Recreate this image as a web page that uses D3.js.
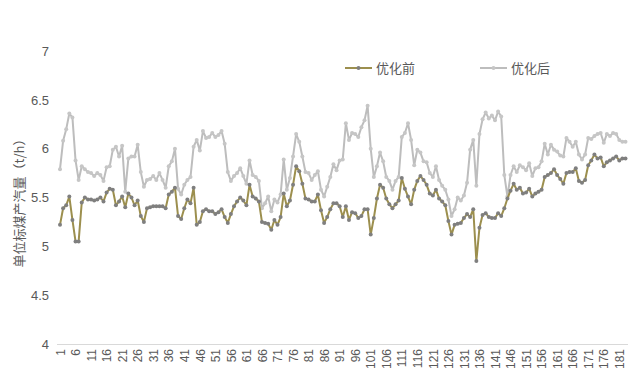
<!DOCTYPE html>
<html><head><meta charset="utf-8">
<script src="https://cdn.jsdelivr.net/npm/d3@7/dist/d3.min.js"></script>
<style>body{margin:0;background:#fff}svg{display:block}</style>
</head><body><svg id="c" width="638" height="378"></svg>
<script>
const seriesNames = ["优化前", "优化后"];
const before = [
5.22,5.39,5.42,5.51,5.27,5.05,5.05,5.45,5.50,5.48,
5.48,5.47,5.48,5.50,5.46,5.55,5.59,5.58,5.42,5.46,
5.51,5.40,5.54,5.50,5.42,5.47,5.31,5.25,5.39,5.40,
5.41,5.41,5.41,5.41,5.39,5.53,5.56,5.60,5.31,5.28,
5.39,5.48,5.44,5.60,5.22,5.25,5.36,5.38,5.36,5.36,
5.33,5.35,5.38,5.30,5.24,5.33,5.41,5.46,5.50,5.47,
5.42,5.63,5.51,5.49,5.46,5.25,5.24,5.23,5.17,5.27,
5.22,5.30,5.54,5.41,5.47,5.63,5.82,5.77,5.64,5.49,
5.48,5.46,5.46,5.53,5.37,5.24,5.30,5.38,5.44,5.44,
5.41,5.30,5.41,5.27,5.35,5.34,5.29,5.31,5.38,5.38,
5.12,5.29,5.49,5.63,5.60,5.49,5.43,5.39,5.43,5.47,
5.70,5.59,5.51,5.43,5.58,5.67,5.72,5.68,5.63,5.54,
5.52,5.58,5.49,5.46,5.42,5.26,5.12,5.22,5.23,5.24,
5.29,5.33,5.30,5.38,4.85,5.19,5.32,5.34,5.30,5.29,
5.29,5.34,5.31,5.39,5.49,5.57,5.64,5.58,5.60,5.54,
5.55,5.59,5.51,5.54,5.56,5.58,5.71,5.73,5.75,5.79,
5.73,5.69,5.64,5.75,5.76,5.76,5.80,5.67,5.65,5.68,
5.83,5.88,5.94,5.90,5.91,5.82,5.86,5.88,5.90,5.92,
5.88,5.90,5.90];
const after = [
5.79,6.08,6.20,6.36,6.32,5.88,5.68,5.82,5.79,5.76,
5.75,5.72,5.75,5.73,5.67,5.81,5.82,5.99,6.02,5.92,
6.03,5.56,5.90,5.92,5.92,6.04,5.76,5.61,5.68,5.69,
5.72,5.68,5.75,5.68,5.60,5.82,5.87,6.00,5.59,5.53,
5.63,5.68,5.71,6.02,6.09,5.98,6.18,6.11,6.12,6.16,
6.12,6.14,6.18,6.05,5.76,5.67,5.72,5.75,5.80,5.72,
5.64,5.88,5.73,5.71,5.67,5.39,5.44,5.51,5.36,5.48,
5.45,5.53,5.89,5.58,5.70,5.92,6.15,6.07,5.92,5.76,
5.75,5.68,5.73,5.77,5.58,5.51,5.61,5.71,5.84,5.78,
5.88,5.89,6.26,6.09,6.16,6.15,6.12,6.22,6.29,6.44,
6.00,5.71,5.82,5.96,5.87,5.71,5.67,5.58,5.67,5.71,
6.12,6.16,6.26,6.09,5.83,5.99,5.96,5.87,5.86,5.75,
5.71,5.82,5.68,5.62,5.58,5.48,5.31,5.38,5.50,5.47,
5.52,5.65,5.99,6.09,5.62,6.15,6.30,6.37,6.31,6.34,
6.29,6.38,6.33,5.73,5.51,5.73,5.82,5.76,5.83,5.81,
5.78,5.85,5.72,5.80,5.81,5.87,6.05,5.94,6.04,5.99,
5.97,5.93,5.92,6.11,6.07,6.02,6.07,5.94,5.89,5.94,
6.11,6.10,6.13,6.15,6.16,6.06,6.15,6.13,6.16,6.15,
6.09,6.07,6.07];
const categories = before.map((d, i) => i + 1);
const xTickLabels = categories.filter(c => (c - 1) % 5 === 0);
const yTicks = [4, 4.5, 5, 5.5, 6, 6.5, 7];
const yTitle = "单位标煤产汽量（t/h）";

const svg = d3.select("#c");
const x = d3.scalePoint().domain(categories).range([60, 625.5]);
const y = d3.scaleLinear().domain([4, 7]).range([344, 51]);
const txt = "#595959";
const latin = "'Liberation Sans', Arial, sans-serif";
const cjk = "'Noto Sans CJK SC', 'Liberation Sans', sans-serif";

// x axis
const xa = svg.append("g").attr("transform", "translate(0,344)")
  .call(d3.axisBottom(x).tickValues(xTickLabels).tickSize(0).tickPadding(0));
xa.select(".domain").attr("d", "M57,0.5H628").attr("stroke", "#d9d9d9");
xa.selectAll("text").attr("fill", txt).style("font-family", latin).style("font-size", "12px")
  .attr("transform", "rotate(-90)").attr("text-anchor", "end")
  .attr("x", -5).attr("y", 0).attr("dy", "0.35em");

// y axis
const ya = svg.append("g").attr("transform", "translate(49,0)")
  .call(d3.axisLeft(y).tickValues(yTicks).tickSize(0).tickPadding(0).tickFormat(d3.format("")));
ya.select(".domain").remove();
ya.selectAll("text").attr("fill", txt).style("font-family", latin).style("font-size", "13px");

svg.append("text").attr("transform", "translate(19,200) rotate(-90)")
  .attr("text-anchor", "middle").attr("dy", "0.35em")
  .attr("fill", txt).style("font-family", cjk).style("font-size", "13px").text(yTitle);

const styles = [
  {data: before, line: "#9c8f4e", dot: "#7f7f7f"},
  {data: after, line: "#bdbdbd", dot: "#c6c6c6"}
];
const line = d3.line().x((d, i) => x(categories[i])).y(d => y(d));
[1, 0].forEach(k => {
  const s = styles[k];
  svg.append("path").datum(s.data).attr("d", line).attr("fill", "none")
    .attr("stroke", s.line).attr("stroke-width", 2).attr("stroke-linejoin", "round");
  svg.append("g").selectAll("circle").data(s.data).join("circle")
    .attr("cx", (d, i) => x(categories[i])).attr("cy", d => y(d)).attr("r", 2)
    .attr("fill", s.dot);
});

// legend
const legX = [345, 480];
seriesNames.forEach((n, k) => {
  const g = svg.append("g").attr("transform", `translate(${legX[k]},68)`);
  g.append("line").attr("x1", 0).attr("x2", 27).attr("y1", 0).attr("y2", 0)
    .attr("stroke", styles[k].line).attr("stroke-width", 2);
  g.append("circle").attr("cx", 13.5).attr("cy", 0).attr("r", 2).attr("fill", styles[k].dot);
  g.append("text").attr("x", 31).attr("y", 0).attr("dy", "0.35em").attr("fill", txt)
    .style("font-family", cjk).style("font-size", "13px").text(n);
});
</script></body></html>
